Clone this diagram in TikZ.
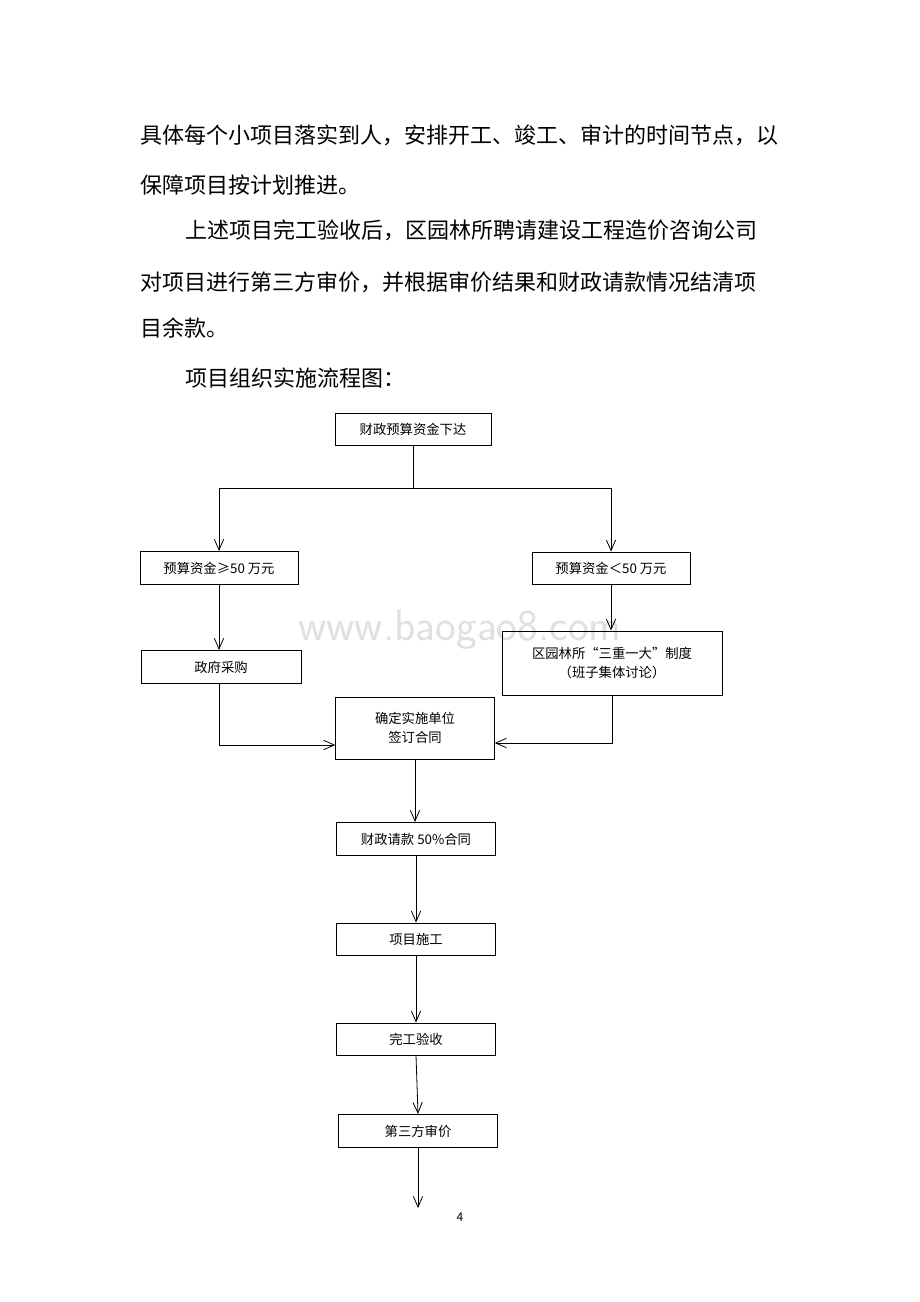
\documentclass[tikz,border=0pt]{standalone}
\usepackage{fontspec}
\setmainfont{Noto Sans CJK SC}
\usetikzlibrary{arrows.meta,positioning}

\begin{document}
\begin{tikzpicture}[%
    x=0.75pt, y=-0.75pt,        % work in reference pixels
    >={Straight Barb[length=8pt,width=7pt]},
    ]
\tikzset{
  para/.style={anchor=west, inner sep=0pt, font=\fontsize{16.5}{18}\selectfont},
  box/.style={draw, line width=0.6pt, rectangle, align=center, inner sep=0pt,
              font=\fontsize{10}{14}\selectfont},
  norm/.style={->, line width=0.6pt},
}
\useasboundingbox[fill=white] (0,0) rectangle (920,1302);

% text above the chart
\node [para] (l1) at (140,135) {具体每个小项目落实到人，安排开工、竣工、审计的时间节点，以};
\node [para] (l2) at (140,185) {保障项目按计划推进。};
\node [para] (l3) at (185,230) {上述项目完工验收后，区园林所聘请建设工程造价咨询公司};
\node [para] (l4) at (140,282) {对项目进行第三方审价，并根据审价结果和财政请款情况结清项};
\node [para] (l5) at (140,328) {目余款。};
\node [para] (l6) at (185,378) {项目组织实施流程图：};

\node [text=black!12, font=\fontsize{33}{36}\selectfont\sffamily] (wm) at (460,630) {www.baogao8.com};

% boxes
\node [box, minimum width=117pt, minimum height=24pt] (b1) at (413,429) {财政预算资金下达};
\node [box, minimum width=118.5pt, minimum height=25pt] (b2) at (219,568) {预算资金≥50 万元};
\node [box, minimum width=118.5pt, minimum height=24pt] (b3) at (611,568) {预算资金＜50 万元};
\node [box, minimum width=120pt, minimum height=25pt] (b4) at (221,667) {政府采购};
\node [box, minimum width=165pt, minimum height=48pt] (b5) at (612,663) {区园林所“三重一大”制度\\（班子集体讨论）};
\node [box, minimum width=119pt, minimum height=46.5pt] (b6) at (415,728) {确定实施单位\\签订合同};
\node [box, minimum width=119pt, minimum height=25pt] (b7) at (416,839) {财政请款 50\%合同};
\node [box, minimum width=119pt, minimum height=24pt] (b8) at (416,939) {项目施工};
\node [box, minimum width=119pt, minimum height=24pt] (b9) at (416,1039) {完工验收};
\node [box, minimum width=119pt, minimum height=25pt] (b10) at (418,1131) {第三方审价};
\coordinate (end) at (418,1208);
\coordinate (split) at (413,488);

\node [font=\fontsize{9}{10}\selectfont] (pg) at (460,1217) {4};

%connect
\draw [line width=0.6pt] (b1.south) -- (split);
\draw [norm] (split) -| (b2.north);
\draw [norm] (split) -| (b3.north);
\draw [norm] (b2.south) -- (b2.south |- b4.north);
\draw [norm] (b3.south) -- (b3.south |- b5.north);
\draw [norm] (b2.south |- b4.south) |- (b6.west |- 0,745);
\draw [norm] (b5.south) |- (b6.east |- 0,743);
\draw [norm] (b6.south) -- (b6.south |- b7.north);
\draw [norm] (b7.south) -- (b8.north);
\draw [norm] (b8.south) -- (b9.north);
\draw [norm] (b9.south) -- (b10.north);
\draw [norm] (b10.south) -- (end);

\end{tikzpicture}
\end{document}
